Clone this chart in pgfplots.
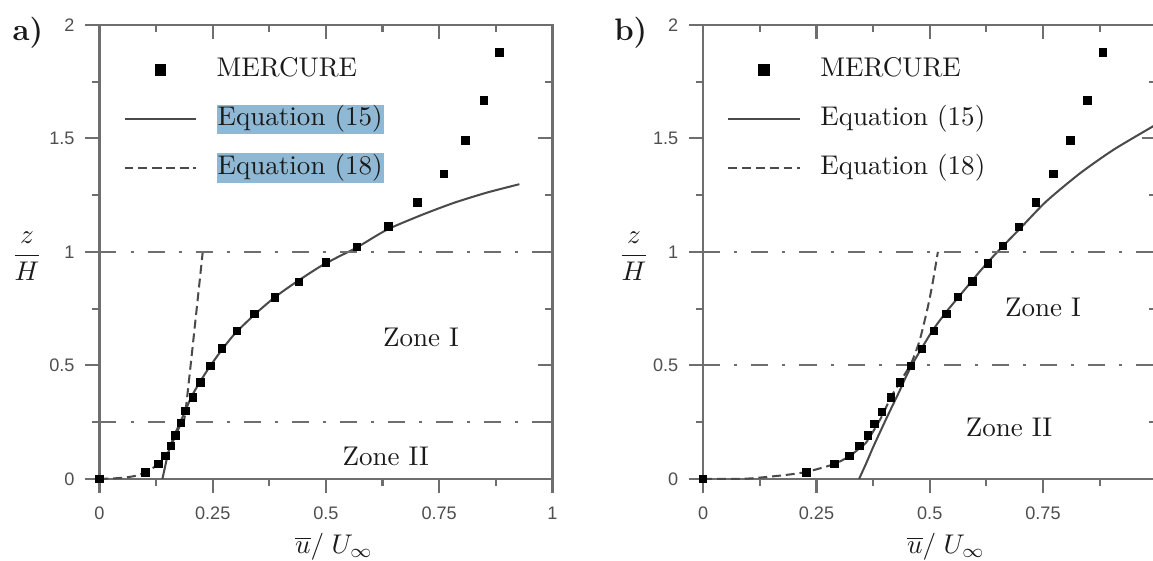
\documentclass[border=0pt]{standalone}
\usepackage{fontspec}
\usepackage{amsmath}
\usepackage{pgfplots}
\pgfplotsset{compat=1.18}
\newfontfamily\ticksf{Liberation Sans}
\definecolor{axcol}{HTML}{6E6E6E}
\definecolor{tickcol}{HTML}{4F4F4F}
\definecolor{curvecol}{HTML}{4A4A4A}
\definecolor{txtcol}{HTML}{1A1A1A}
\definecolor{hl}{HTML}{8FB8D4}

\tikzset{panellabel/.style={txtcol, font=\bfseries\fontsize{11.5}{13}\selectfont}}

\pgfplotsset{
  panel/.style={
    scale only axis, width=167.6pt, height=168pt,
    xmin=0, xmax=1, ymin=0, ymax=2, clip=false,
    xtick={0,0.25,0.5,0.75,1}, ytick={0,0.5,1,1.5,2},
    minor x tick num=1, minor y tick num=1,
    major tick length=5.2pt, minor tick length=2.6pt,
    axis line style={axcol, line width=0.8pt},
    every tick/.style={axcol, line width=0.8pt},
  },
  ticksout/.style={
    tick align=outside, xtick pos=left, ytick pos=left,
    xticklabels={0,0.25,0.5,0.75,1}, yticklabels={0,0.5,1,1.5,2},
    tick label style={font=\ticksf\fontsize{6.7}{7}\selectfont, text=tickcol},
    xticklabel style={yshift=-1.5pt},
    yticklabel style={xshift=-0.5pt},
    legend image code/.code={\draw[mark repeat=2,mark phase=2,#1] plot coordinates {(0pt,0pt) (13.3pt,0pt) (26.6pt,0pt)};},
    legend style={at={(axis cs:0.052,1.868)}, anchor=north west, draw=none, fill=none,
      inner sep=0pt, row sep=7.1pt, column sep=6.6pt, font=\fontsize{10}{12}\selectfont, text=txtcol,
      cells={anchor=west}, nodes={inner sep=0.5pt, text height=7.5pt, text depth=2.5pt}},
  },
  ticksin/.style={
    tick align=inside, xtick pos=right, ytick pos=right,
    xticklabels={}, yticklabels={}, axis line style={draw=none},
  },
  zoneline/.style={axcol, line width=0.75pt, dash pattern=on 6.3pt off 5.2pt on 1.1pt off 5.2pt, forget plot},
  eqA/.style={curvecol, line width=0.75pt, smooth, tension=0.4},
  eqB/.style={curvecol, line width=0.75pt, dash pattern=on 3.3pt off 1.8pt, smooth, tension=0.4},
  mercure/.style={only marks, mark=square*, mark size=1.35pt, black, legend image post style={mark size=2.0pt}},
}

\pgfplotstableread{
x z
0     0
0.102 0.029
0.130 0.066
0.146 0.101
0.158 0.145
0.168 0.192
0.180 0.245
0.190 0.299
0.206 0.359
0.223 0.425
0.245 0.498
0.271 0.575
0.304 0.651
0.342 0.726
0.387 0.799
0.440 0.867
0.500 0.953
0.569 1.022
0.638 1.112
0.702 1.217
0.760 1.342
0.808 1.490
0.849 1.667
0.883 1.879
}\mercureA

\pgfplotstableread{
x z
0     0
0.228 0.029
0.290 0.065
0.323 0.101
0.345 0.145
0.363 0.191
0.378 0.242
0.395 0.296
0.414 0.358
0.434 0.425
0.458 0.498
0.483 0.572
0.510 0.651
0.537 0.726
0.563 0.802
0.594 0.870
0.629 0.949
0.662 1.025
0.697 1.110
0.734 1.218
0.773 1.342
0.811 1.490
0.848 1.667
0.883 1.879
}\mercureB

\begin{document}
\begin{tikzpicture}
% ---------------- panel a ----------------
\begin{axis}[panel, ticksout, at={(0pt,0pt)}, anchor=south west]
  \addplot[mercure] table[x=x, y=z] {\mercureA};
  \addlegendentry{MERCURE}
  \addplot[eqA] coordinates {
    (0.139,0) (0.145,0.055) (0.150,0.100) (0.156,0.142) (0.166,0.195)
    (0.178,0.248) (0.190,0.302) (0.203,0.362) (0.222,0.428) (0.244,0.496)
    (0.270,0.568) (0.299,0.640) (0.343,0.725) (0.387,0.800) (0.432,0.864)
    (0.486,0.934) (0.527,0.978) (0.568,1.019) (0.634,1.097) (0.708,1.160)
    (0.781,1.215) (0.855,1.261) (0.927,1.298)};
  \addlegendentry{\fboxsep=0.4pt\colorbox{hl}{Equation (15)}}
  \addplot[eqB] coordinates {
    (0,0) (0.030,0.002) (0.060,0.007) (0.085,0.016) (0.103,0.031)
    (0.118,0.048) (0.131,0.068) (0.147,0.102) (0.158,0.145) (0.168,0.192)
    (0.180,0.245) (0.190,0.299) (0.228,1.0)};
  \addlegendentry{\fboxsep=0.4pt\colorbox{hl}{Equation (18)}}
  \addplot[zoneline] coordinates {(0,1) (1,1)};
  \addplot[zoneline] coordinates {(0,0.25) (1,0.25)};
  \node[txtcol] at (axis cs:0.710,0.625) {Zone I};
  \node[txtcol] at (axis cs:0.632,0.097) {Zone II};
  \node[panellabel] at (rel axis cs:-0.158,0.982) {a)};
  \node[txtcol] at (rel axis cs:-0.160,0.49) {$\dfrac{z}{H}$};
  \node[txtcol, anchor=base] at ([yshift=-27.6pt]rel axis cs:0.518,0) {$\overline{u}/\;U_{\infty}$};
\end{axis}
\begin{axis}[panel, ticksin, at={(0pt,0pt)}, anchor=south west]
\end{axis}
% ---------------- panel b (its right edge lies just past the picture) ----------------
\begin{axis}[panel, ticksout, at={(223.4pt,0pt)}, anchor=south west,
  xticklabels={0,0.25,0.5,0.75,{}}]
  \addplot[mercure] table[x=x, y=z] {\mercureB};
  \addlegendentry{MERCURE}
  \addplot[eqA] coordinates {
    (0.344,0) (0.360,0.070) (0.375,0.140) (0.390,0.205) (0.404,0.265)
    (0.419,0.328) (0.434,0.390) (0.447,0.448) (0.460,0.500) (0.482,0.575)
    (0.507,0.656) (0.537,0.737) (0.564,0.802) (0.611,0.915) (0.647,0.995)
    (0.698,1.100) (0.757,1.222) (0.831,1.345) (0.905,1.449) (0.992,1.552) (1.0,1.560)};
  \addlegendentry{Equation (15)}
  \addplot[eqB] coordinates {
    (0,0) (0.050,0) (0.103,0.002) (0.176,0.016) (0.228,0.031) (0.290,0.066)
    (0.323,0.101) (0.345,0.135) (0.361,0.164) (0.390,0.260) (0.415,0.362)
    (0.437,0.436) (0.459,0.509) (0.478,0.612) (0.496,0.759) (0.507,0.870) (0.518,1.0)};
  \addlegendentry{Equation (18)}
  \addplot[zoneline] coordinates {(0,1) (1,1)};
  \addplot[zoneline] coordinates {(0,0.5) (1,0.5)};
  \node[txtcol] at (axis cs:0.750,0.757) {Zone I};
  \node[txtcol] at (axis cs:0.675,0.229) {Zone II};
  \node[panellabel] at (rel axis cs:-0.160,0.982) {b)};
  \node[txtcol] at (rel axis cs:-0.153,0.49) {$\dfrac{z}{H}$};
  \node[txtcol, anchor=base] at ([yshift=-27.6pt]rel axis cs:0.536,0) {$\overline{u}/\;U_{\infty}$};
\end{axis}
\begin{axis}[panel, ticksin, at={(223.4pt,0pt)}, anchor=south west]
\end{axis}
\pgfresetboundingbox
\path[use as bounding box] (-36.8pt,-30.3pt) rectangle (389.8pt,177.2pt);
\end{tikzpicture}
\end{document}
